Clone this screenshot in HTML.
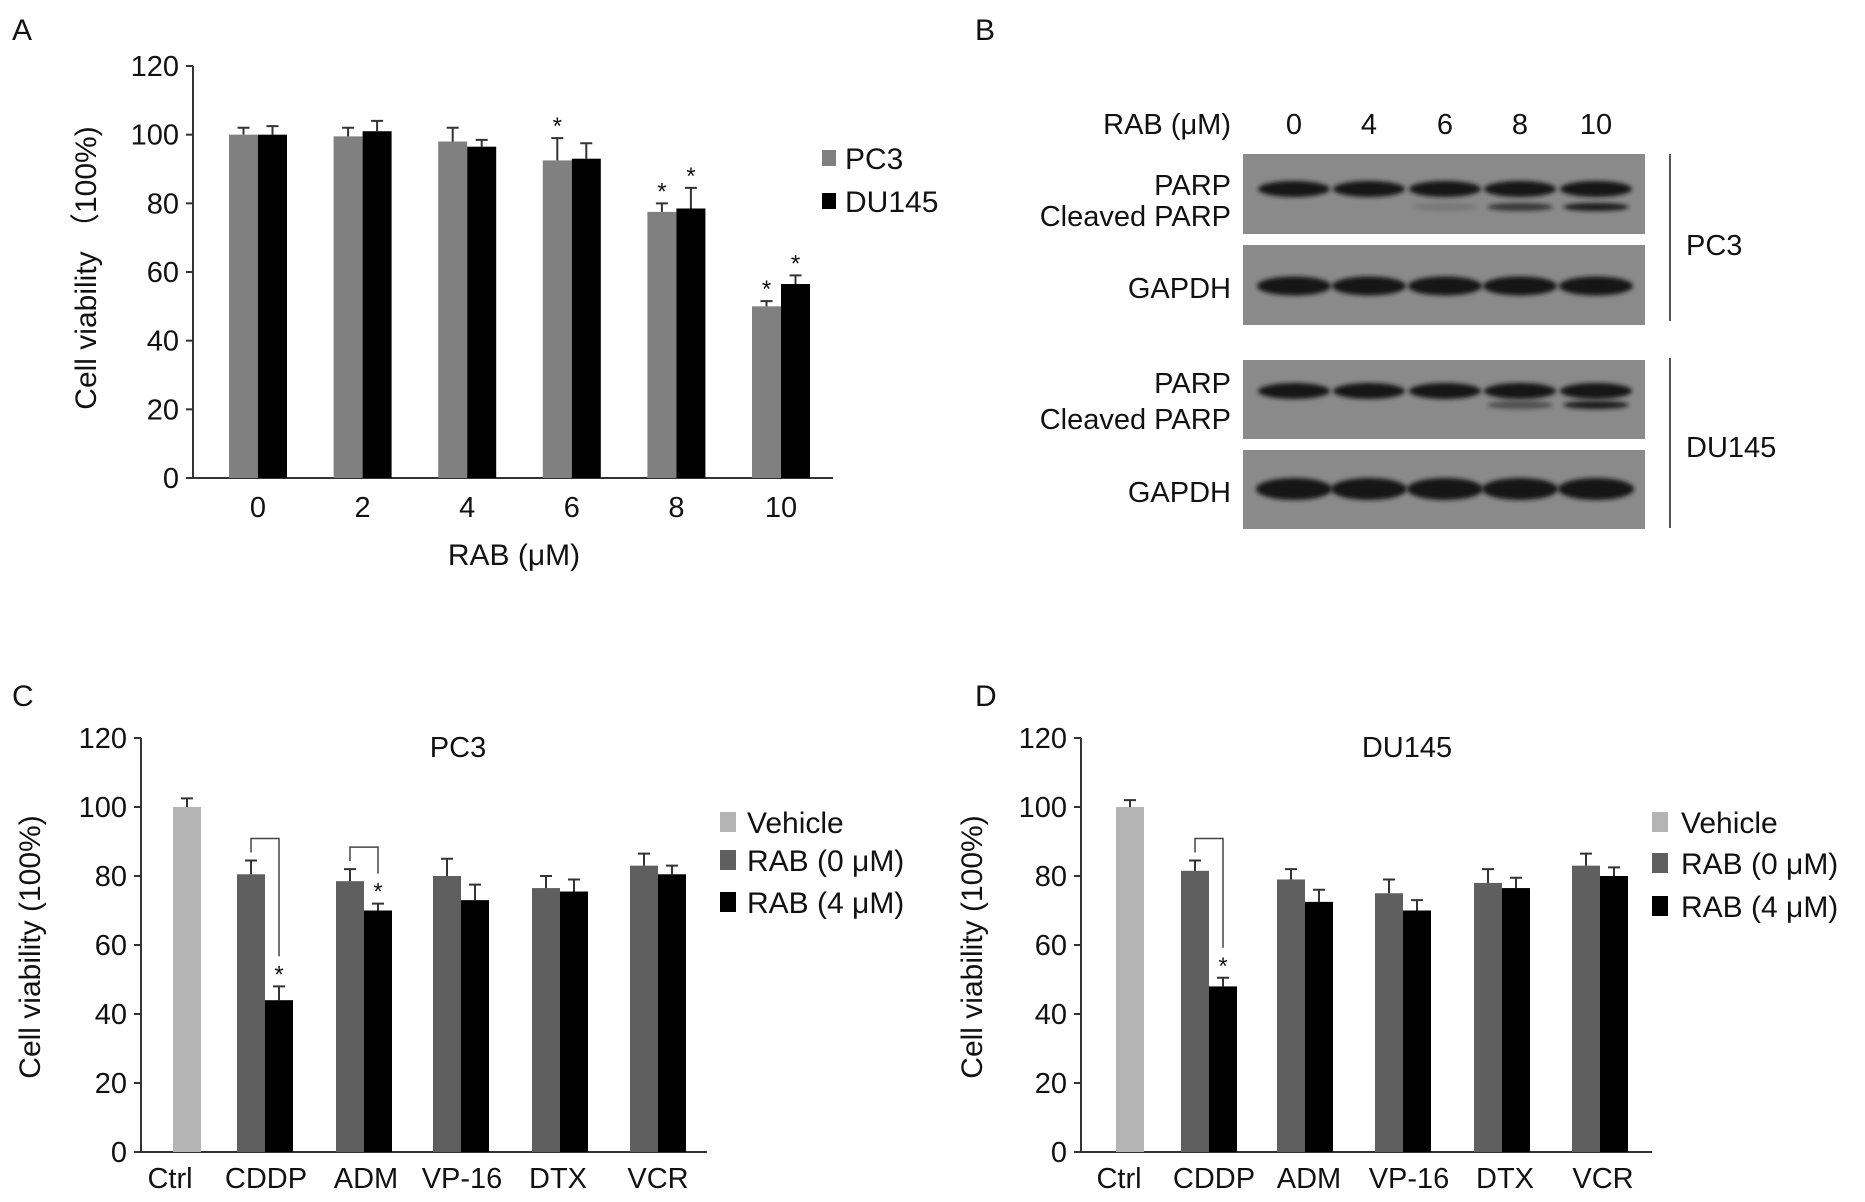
<!DOCTYPE html>
<html><head><meta charset="utf-8"><style>
html,body{margin:0;padding:0;background:#fff}
svg{display:block}
text{font-family:"Liberation Sans",Arial,sans-serif;fill:#111}
</style></head><body>
<svg id="fig" width="1865" height="1202" viewBox="0 0 1865 1202" xmlns="http://www.w3.org/2000/svg">
<defs><filter id="blur" x="-20%" y="-100%" width="140%" height="300%"><feGaussianBlur stdDeviation="2"/></filter></defs>
<text x="12" y="40" font-size="30">A</text>
<text x="975" y="40" font-size="30">B</text>
<text x="12" y="706" font-size="30">C</text>
<text x="975" y="706" font-size="30">D</text>
<g id="pa"></g><g id="pb"></g><g id="pc"></g><g id="pd"></g>
</svg>
<script>
// Panel A data
const aCats = ["0","2","4","6","8","10"];
const aPC3 = [100, 99.5, 98, 92.5, 77.5, 50];
const aPC3Err = [2, 2.5, 4, 6.5, 2.5, 1.5];
const aDU = [100, 101, 96.5, 93, 78.5, 56.5];
const aDUErr = [2.5, 3, 2, 4.5, 6, 2.5];
const aPC3Star = [0,0,0,1,1,1];
const aDUStar = [0,0,0,0,1,1];
const yTicks = [0,20,40,60,80,100,120];
// Panel C data (PC3)
const cCats = ["Ctrl","CDDP","ADM","VP-16","DTX","VCR"];
const cVeh = [100, null, null, null, null, null];
const cVehErr = [2.5, 0,0,0,0,0];
const cR0 = [null, 80.5, 78.5, 80, 76.5, 83];
const cR0Err = [0, 4, 3.5, 5, 3.5, 3.5];
const cR4 = [null, 44, 70, 73, 75.5, 80.5];
const cR4Err = [0, 4, 2, 4.5, 3.5, 2.5];
const cStar = [0,1,1,0,0,0];
// Panel D data (DU145)
const dCats = ["Ctrl","CDDP","ADM","VP-16","DTX","VCR"];
const dVeh = [100, null, null, null, null, null];
const dVehErr = [2, 0,0,0,0,0];
const dR0 = [null, 81.5, 79, 75, 78, 83];
const dR0Err = [0, 3, 3, 4, 4, 3.5];
const dR4 = [null, 48, 72.5, 70, 76.5, 80];
const dR4Err = [0, 2.5, 3.5, 3, 3, 2.5];
const dStar = [0,1,0,0,0,0];

const NS="http://www.w3.org/2000/svg";
function el(parent, tag, attrs, txt){
  const e=document.createElementNS(NS,tag);
  for(const k in attrs) e.setAttribute(k,attrs[k]);
  if(txt!==undefined) e.textContent=txt;
  parent.appendChild(e); return e;
}
function errBar(g, cx, yTop, yErr){
  const l=el(g,'path',{d:`M${cx},${yTop}V${yErr}M${cx-6},${yErr}H${cx+6}`,stroke:'#333','stroke-width':2,fill:'none'});
  
  
}
function star(g, x, y){
  const s=el(g,'text',{x:x,y:y,'font-size':24,'text-anchor':'middle'},'*');
  
  
}
function axes(g, x0, xEnd, y0, y120){
  const ys=v=>y0-(y0-y120)*v/120;
  const ax=el(g,'path',{d:`M${x0},${y120}V${y0}H${xEnd}`,stroke:'#333','stroke-width':2,fill:'none'});
  
  
  yTicks.forEach(t=>{
    el(g,'line',{x1:x0-7,x2:x0,y1:ys(t),y2:ys(t),stroke:'#333','stroke-width':2});
    const tl=el(g,'text',{x:x0-14,y:ys(t)+10,'font-size':29,'text-anchor':'end'},String(t));
    
    
  });
  return ys;
}
// ---- Panel A ----
(function(){
  const g=document.getElementById('pa');
  const x0=193,xEnd=833,y0=478,y120=66;
  const ys=axes(g,x0,xEnd,y0,y120);
  const xs=i=>258+104.6*i, bw=29;
  aCats.forEach((c,i)=>{
    const cx=xs(i);
    const b1=el(g,'rect',{x:cx-bw,y:ys(aPC3[i]),width:bw,height:y0-ys(aPC3[i]),fill:'#808080'});
    
    
    const b2=el(g,'rect',{x:cx,y:ys(aDU[i]),width:bw,height:y0-ys(aDU[i]),fill:'#000'});
    
    
    errBar(g,cx-bw/2,ys(aPC3[i]),ys(aPC3[i]+aPC3Err[i]));
    errBar(g,cx+bw/2,ys(aDU[i]),ys(aDU[i]+aDUErr[i]));
    if(aPC3Star[i]) star(g,cx-bw/2,ys(aPC3[i]+aPC3Err[i])-4);
    if(aDUStar[i]) star(g,cx+bw/2,ys(aDU[i]+aDUErr[i])-4);
    const t=el(g,'text',{x:cx,y:517,'font-size':29,'text-anchor':'middle'},c);
    
    
  });
  const yt=el(g,'text',{x:0,y:0,'font-size':30,'text-anchor':'middle',transform:'translate(96,268) rotate(-90)'},'Cell viability （100%)');
  
  
  const xt=el(g,'text',{x:514,y:565,'font-size':30,'text-anchor':'middle'},'RAB (μM)');
  
  
  [['PC3','#808080',158],['DU145','#000',201]].forEach(([n,c,y])=>{
    const s=el(g,'rect',{x:822,y:y-8,width:14,height:16,fill:c});
    
    
    const t=el(g,'text',{x:845,y:y+11,'font-size':30},n);
    
    
  });
})();
// ---- Panel B (western blot) ----
(function(){
  const g=document.getElementById('pb');
  const lanes=["0","4","6","8","10"];
  const lx=[1294,1369,1445,1520,1596];
  const h=el(g,'text',{x:1231,y:134,'font-size':29,'text-anchor':'end'},'RAB (μM)');
  
  
  lanes.forEach((l,i)=>{
    const t=el(g,'text',{x:lx[i],y:134,'font-size':29,'text-anchor':'middle'},l);
    
    
  });
  const blots=[[154,234],[245,325],[360,439],[450,529]];
  blots.forEach((b,i)=>{
    const r=el(g,'rect',{x:1243,y:b[0],width:402,height:b[1]-b[0],fill:'#8a8a8a'});
    
    
  });
  function band(cy,h,op,w){
    lx.forEach((x,i)=>{
      if(op[i]<=0) return;
      const e=el(g,'ellipse',{cx:x,cy:cy,rx:w/2,ry:h/2,fill:'#151515',opacity:op[i],filter:'url(#blur)'});
      
      
    });
  }
  band(189,16,[1,1,1,1,1],72);
  band(207,8,[0,0,0.15,0.7,0.95],66);
  band(286,19,[1,1,1,1,1],74);
  band(391,16,[1,1,1,1,1],72);
  band(405,8,[0,0,0,0.5,0.95],66);
  band(489,22,[1,1,1,1,1],76);
  [['PARP',195],['Cleaved PARP',226],['GAPDH',298],['PARP',393],['Cleaved PARP',429],['GAPDH',502]].forEach(([n,y])=>{
    const t=el(g,'text',{x:1231,y:y,'font-size':29,'text-anchor':'end'},n);
    
    
  });
  el(g,'line',{x1:1670,x2:1670,y1:154,y2:321,stroke:'#555','stroke-width':2});
  el(g,'line',{x1:1670,x2:1670,y1:358,y2:528,stroke:'#555','stroke-width':2});
  const p=el(g,'text',{x:1686,y:255,'font-size':29},'PC3');
  
  
  const d=el(g,'text',{x:1686,y:457,'font-size':29},'DU145');
  
  
})();
// ---- Panels C & D ----
function drugPanel(id, cfg){
  const g=document.getElementById(id);
  const y0=1152,y120=738;
  const ys=axes(g,cfg.x0,cfg.xEnd,y0,y120);
  const bw=28;
  cfg.cats.forEach((c,i)=>{
    const cx=cfg.gx[i];
    if(cfg.veh[i]!=null){
      const b=el(g,'rect',{x:cx-bw/2,y:ys(cfg.veh[i]),width:bw,height:y0-ys(cfg.veh[i]),fill:'#b4b4b4'});
      
      
      errBar(g,cx,ys(cfg.veh[i]),ys(cfg.veh[i]+cfg.vehErr[i]));
    }
    if(cfg.r0[i]!=null){
      const b=el(g,'rect',{x:cx-bw,y:ys(cfg.r0[i]),width:bw,height:y0-ys(cfg.r0[i]),fill:'#5f5f5f'});
      
      
      errBar(g,cx-bw/2,ys(cfg.r0[i]),ys(cfg.r0[i]+cfg.r0Err[i]));
    }
    if(cfg.r4[i]!=null){
      const b=el(g,'rect',{x:cx,y:ys(cfg.r4[i]),width:bw,height:y0-ys(cfg.r4[i]),fill:'#000'});
      
      
      errBar(g,cx+bw/2,ys(cfg.r4[i]),ys(cfg.r4[i]+cfg.r4Err[i]));
    }
    if(cfg.star[i]){
      const top=ys(cfg.r4[i]+cfg.r4Err[i]);
      star(g,cx+bw/2,top-4);
      const l=cx-bw/2, r=cx+bw/2;
      const yTop=ys(Math.max(cfg.r0[i]+cfg.r0Err[i],cfg.r4[i]+cfg.r4Err[i]))-22;
      const br=el(g,'path',{d:`M${l},${ys(cfg.r0[i]+cfg.r0Err[i])-8}V${yTop}H${r}V${top-30}`,stroke:'#444','stroke-width':1.5,fill:'none'});
      
      
    }
    const t=el(g,'text',{x:cfg.lx[i],y:1188,'font-size':29,'text-anchor':'middle'},c);
    
    
  });
  const yt=el(g,'text',{x:0,y:0,'font-size':30,'text-anchor':'middle',transform:`translate(${cfg.ytx},947) rotate(-90)`},'Cell viability (100%)');
  
  
  const tt=el(g,'text',{x:cfg.tx,y:757,'font-size':29,'text-anchor':'middle'},cfg.title);
  
  
  [['Vehicle','#b4b4b4',cfg.ly[0]],['RAB (0 μM)','#5f5f5f',cfg.ly[1]],['RAB (4 μM)','#000',cfg.ly[2]]].forEach(([n,c,y])=>{
    const s=el(g,'rect',{x:cfg.lsx,y:y-10,width:16,height:20,fill:c});
    
    
    const t=el(g,'text',{x:cfg.ltx,y:y+11,'font-size':30},n);
    
    
  });
}
drugPanel('pc',{x0:141,xEnd:707,cats:cCats,veh:cVeh,vehErr:cVehErr,r0:cR0,r0Err:cR0Err,r4:cR4,r4Err:cR4Err,star:cStar,
  gx:[187,265,364,461,560,658],lx:[170,266,366,462,558,658],ytx:40,tx:458,title:'PC3',lsx:720,ltx:747,ly:[822,860,902]});
drugPanel('pd',{x0:1081,xEnd:1652,cats:dCats,veh:dVeh,vehErr:dVehErr,r0:dR0,r0Err:dR0Err,r4:dR4,r4Err:dR4Err,star:dStar,
  gx:[1130,1209,1305,1403,1502,1600],lx:[1119,1214,1309,1409,1505,1603],ytx:982,tx:1407,title:'DU145',lsx:1652,ltx:1681,ly:[822,863,906]});
</script>
</body></html>
